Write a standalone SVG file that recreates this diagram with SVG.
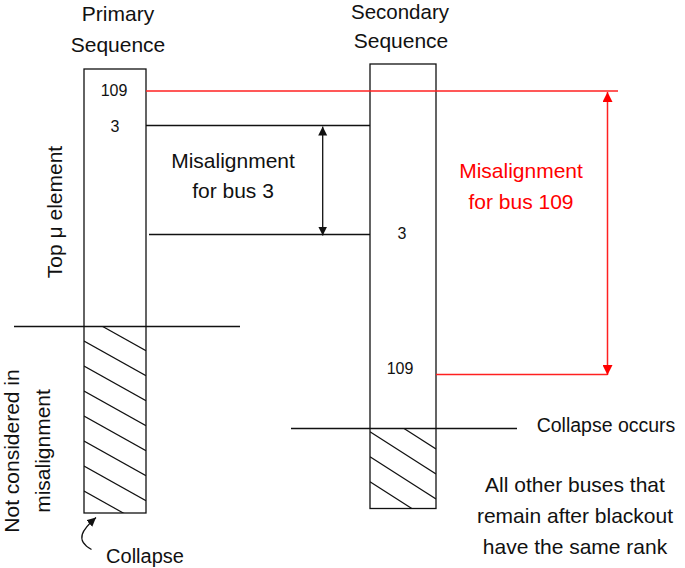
<svg xmlns="http://www.w3.org/2000/svg" width="685" height="568" viewBox="0 0 685 568">
<style>
  text { font-family: "Liberation Sans", Arial, sans-serif; fill: #111; }
  .big { font-size: 21px; text-anchor: middle; }
  .num { font-size: 16px; text-anchor: middle; }
  .red { fill: #ff0000; }
  .box { fill: #fff; stroke: #111; stroke-width: 1.3; }
  .ln { stroke: #111; stroke-width: 1.3; fill: none; }
  .rln { stroke: #ff2020; stroke-width: 1.5; fill: none; }
  .hatch { stroke: #111; stroke-width: 1.2; }
</style>
<defs>
  <marker id="ah" viewBox="0 0 10 10" refX="10" refY="5" markerWidth="9" markerHeight="10" markerUnits="userSpaceOnUse" orient="auto-start-reverse">
    <path d="M0,0 L10,5 L0,10 z" fill="#111"/>
  </marker>
  <marker id="ahr" viewBox="0 0 10 10" refX="10" refY="5" markerWidth="10" markerHeight="10" markerUnits="userSpaceOnUse" orient="auto-start-reverse">
    <path d="M0,0 L10,5 L0,10 z" fill="#ff0000"/>
  </marker>
  <marker id="ahc" viewBox="0 0 10 10" refX="10" refY="5" markerWidth="9" markerHeight="9" markerUnits="userSpaceOnUse" orient="auto">
    <path d="M0,0 L10,5 L0,10 z" fill="#111"/>
  </marker>
  <clipPath id="clipP"><rect x="84" y="326.5" width="62" height="186.5"/></clipPath>
  <clipPath id="clipS"><rect x="370" y="428.5" width="66" height="80"/></clipPath>
</defs>

<g id="primary">
  <text class="big" x="118" y="21">Primary</text>
  <text class="big" x="118" y="52">Sequence</text>
  <rect class="box" x="84" y="69" width="62" height="444"/>
  <g clip-path="url(#clipP)" class="hatch">
    <line x1="84" y1="316" x2="146" y2="350.8"/>
    <line x1="84" y1="341" x2="146" y2="375.8"/>
    <line x1="84" y1="366" x2="146" y2="400.8"/>
    <line x1="84" y1="391" x2="146" y2="425.8"/>
    <line x1="84" y1="416" x2="146" y2="450.8"/>
    <line x1="84" y1="441" x2="146" y2="475.8"/>
    <line x1="84" y1="466" x2="146" y2="500.8"/>
    <line x1="84" y1="491" x2="146" y2="525.8"/>
  </g>
  <text class="num" x="114" y="96">109</text>
  <text class="num" x="115" y="132">3</text>
</g>

<g id="secondary">
  <text class="big" x="400" y="18.5" style="font-size:20.5px">Secondary</text>
  <text class="big" x="401" y="47.5">Sequence</text>
  <rect class="box" x="370" y="64" width="66" height="444.5"/>
  <g clip-path="url(#clipS)" class="hatch">
    <line x1="370" y1="406.7" x2="436" y2="449"/>
    <line x1="370" y1="431.7" x2="436" y2="474"/>
    <line x1="370" y1="456.7" x2="436" y2="499"/>
    <line x1="370" y1="481.7" x2="436" y2="524"/>
  </g>
  <text class="num" x="402" y="239">3</text>
  <text class="num" x="400" y="374">109</text>
</g>

<g id="connectors">
  <line class="rln" x1="146" y1="91" x2="618" y2="91"/>
  <line class="rln" x1="436" y1="374.5" x2="607.5" y2="374.5"/>
  <line class="rln" x1="607.5" y1="92" x2="607.5" y2="375" marker-start="url(#ahr)" marker-end="url(#ahr)"/>
  <line class="ln" x1="146" y1="125.5" x2="370" y2="125.5"/>
  <line class="ln" x1="149" y1="234.5" x2="370" y2="234.5"/>
  <line class="ln" x1="322.7" y1="126.5" x2="322.7" y2="235.5" marker-start="url(#ah)" marker-end="url(#ah)"/>
  <line class="ln" x1="14" y1="326.5" x2="240" y2="326.5"/>
  <line class="ln" x1="291" y1="428.5" x2="517" y2="428.5"/>
  <path class="ln" d="M91.5 549.5 C74 540 83 529 96 517.5" marker-end="url(#ahc)"/>
</g>

<g id="labels">
  <text class="big" x="233" y="168">Misalignment</text>
  <text class="big" x="233" y="198">for bus 3</text>
  <text class="big red" x="521" y="178">Misalignment</text>
  <text class="big red" x="521" y="209">for bus 109</text>
  <text class="big" transform="translate(61.5,212) rotate(-90)">Top μ element</text>
  <text class="big" transform="translate(18.5,451) rotate(-90)">Not considered in</text>
  <text class="big" transform="translate(49.5,451) rotate(-90)">misalignment</text>
  <text class="big" x="145" y="563" style="font-size:20px">Collapse</text>
  <text class="big" x="606" y="432" style="font-size:19.5px">Collapse occurs</text>
  <text class="big" x="575" y="492">All other buses that</text>
  <text class="big" x="575" y="523">remain after blackout</text>
  <text class="big" x="575" y="554">have the same rank</text>
</g>
</svg>
